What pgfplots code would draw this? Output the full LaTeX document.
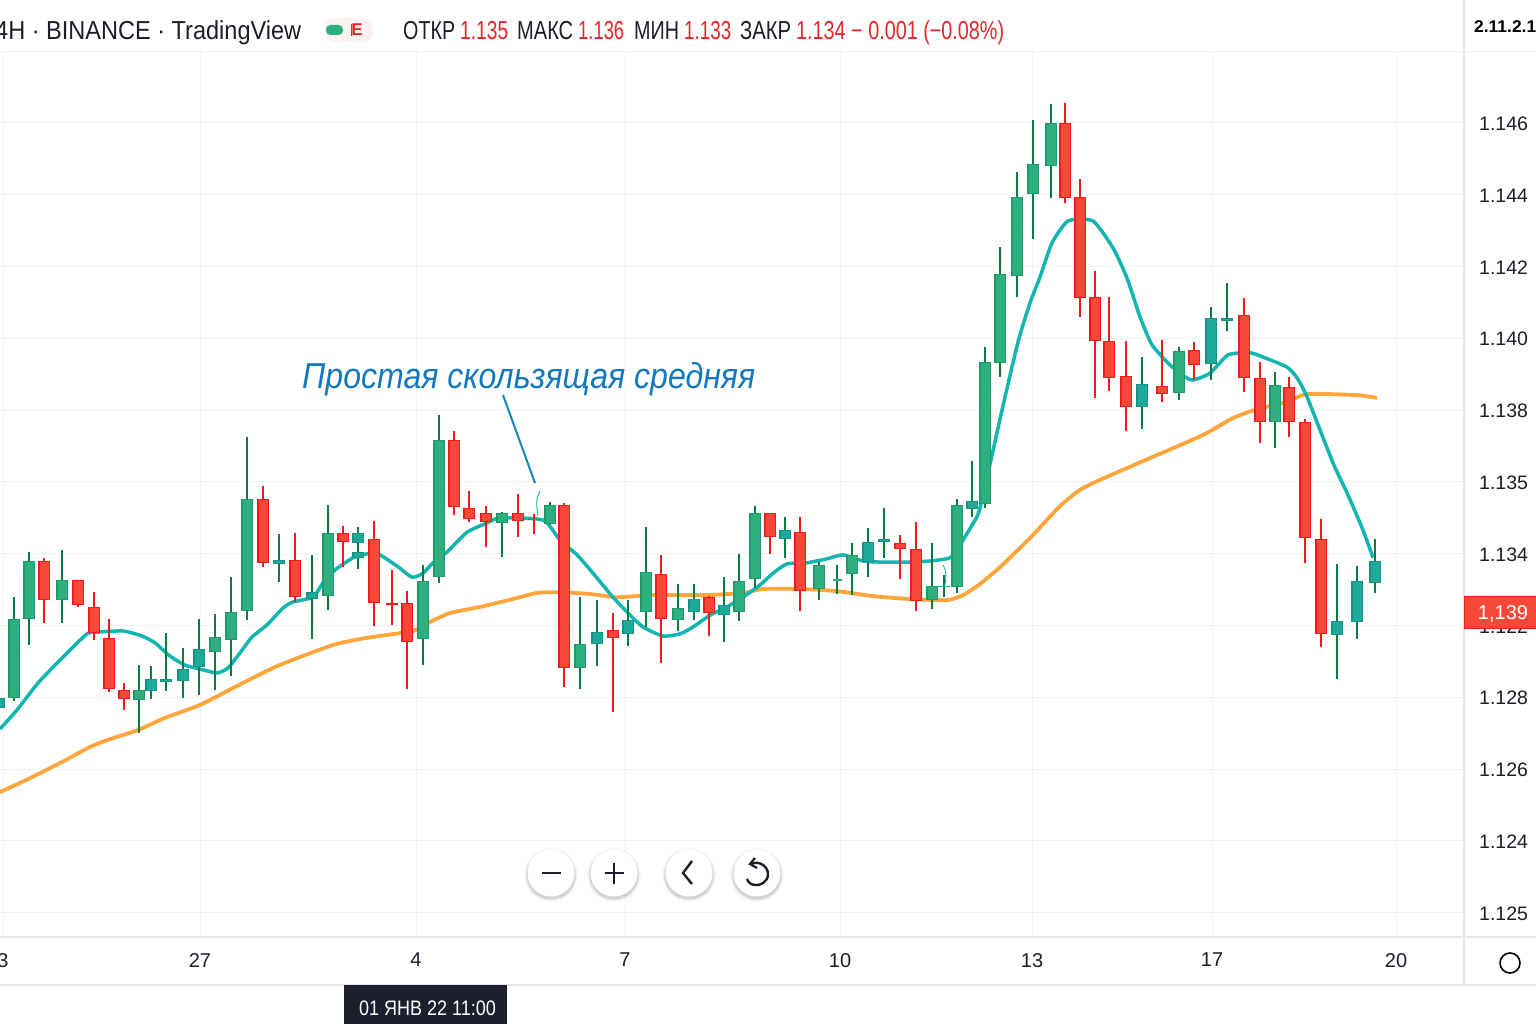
\documentclass[border=0pt]{standalone}
\usepackage{fontspec}
\setmainfont{Liberation Sans}
\usepackage{graphicx}
\usepackage{pgfplots}
\usepackage{pgfplotstable}
\pgfplotsset{compat=1.18}
\definecolor{gridc}{HTML}{F0F2F4}
\definecolor{sepc}{HTML}{E4E6EA}
\definecolor{gbody}{HTML}{2FAE80}
\definecolor{gbord}{HTML}{1C9C6C}
\definecolor{tbody}{HTML}{1FA998}
\definecolor{tbord}{HTML}{149488}
\definecolor{gwick}{HTML}{0A7D3E}
\definecolor{rbody}{HTML}{F8483A}
\definecolor{rbord}{HTML}{F01C1C}
\definecolor{tealln}{HTML}{12B5B0}
\definecolor{orangeln}{HTML}{FFA53C}
\definecolor{annot}{HTML}{1478BE}
\definecolor{hdred}{HTML}{E5262A}
\definecolor{txt}{HTML}{1A1E28}
\definecolor{boxc}{HTML}{1B1F2E}

\pgfplotstableread{
x H T B L
14 1.13279 1.13219 1.12999 1.12990
29 1.13405 1.13380 1.13219 1.13146
62 1.13411 1.13327 1.13271 1.13208
139 1.13090 1.13021 1.12993 1.12901
215 1.13232 1.13168 1.13126 1.13021
231 1.13335 1.13238 1.13160 1.13059
247 1.13725 1.13553 1.13241 1.13216
328 1.13536 1.13457 1.13282 1.13243
423 1.13369 1.13324 1.13163 1.13090
439 1.13786 1.13717 1.13335 1.13319
502 1.13516 1.13514 1.13486 1.13391
550 1.13544 1.13536 1.13483 1.13480
580 1.13279 1.13149 1.13082 1.13024
646 1.13474 1.13349 1.13238 1.13196
678 1.13316 1.13249 1.13216 1.13185
739 1.13400 1.13324 1.13238 1.13213
755 1.13533 1.13514 1.13330 1.13305
819 1.13377 1.13369 1.13302 1.13271
837 1.13369 1.13327 1.13327 1.13288
852 1.13430 1.13397 1.13344 1.13285
932 1.13430 1.13310 1.13271 1.13246
957 1.13553 1.13536 1.13307 1.13290
985 1.13976 1.13934 1.13539 1.13528
1000 1.14255 1.14179 1.13931 1.13893
1017 1.14464 1.14394 1.14174 1.14115
1033 1.14608 1.14486 1.14402 1.14277
1051 1.14653 1.14600 1.14480 1.14391
1179 1.13976 1.13965 1.13848 1.13828
1275 1.13906 1.13870 1.13767 1.13695
}\greenT

\pgfplotstableread{
x H T B L
-1 1.13021 1.12999 1.12971 1.12960
151 1.13087 1.13051 1.13018 1.12996
166 1.13180 1.13051 1.13043 1.13018
183 1.13138 1.13079 1.13046 1.12999
199 1.13219 1.13135 1.13085 1.13007
279 1.13455 1.13383 1.13372 1.13322
312 1.13397 1.13293 1.13274 1.13163
358 1.13474 1.13457 1.13430 1.13358
358 1.13405 1.13405 1.13389 1.13389
597 1.13271 1.13182 1.13149 1.13087
628 1.13271 1.13216 1.13177 1.13143
694 1.13316 1.13274 1.13238 1.13216
724 1.13335 1.13257 1.13229 1.13154
785 1.13503 1.13466 1.13441 1.13389
868 1.13472 1.13433 1.13377 1.13335
884 1.13528 1.13441 1.13433 1.13389
944 1.13341 1.13310 1.13307 1.13279
972 1.13658 1.13547 1.13525 1.13503
1142 1.13948 1.13873 1.13809 1.13748
1211 1.14087 1.14057 1.13929 1.13884
1227 1.14155 1.14057 1.14048 1.14020
1337 1.13372 1.13213 1.13174 1.13051
1357 1.13366 1.13324 1.13210 1.13163
1375 1.13441 1.13380 1.13319 1.13290
}\tealT

\pgfplotstableread{
x H T B L
44 1.13389 1.13380 1.13271 1.13208
78 1.13327 1.13327 1.13257 1.13252
94 1.13293 1.13252 1.13180 1.13160
109 1.13219 1.13166 1.13024 1.13015
124 1.13040 1.13021 1.12996 1.12965
263 1.13589 1.13553 1.13375 1.13363
295 1.13457 1.13383 1.13279 1.13266
343 1.13477 1.13457 1.13433 1.13363
374 1.13491 1.13441 1.13263 1.13199
392 1.13355 1.13263 1.13257 1.13202
407 1.13296 1.13263 1.13154 1.13024
454 1.13742 1.13717 1.13530 1.13508
469 1.13575 1.13528 1.13497 1.13488
486 1.13533 1.13514 1.13488 1.13419
518 1.13567 1.13514 1.13491 1.13447
534 1.13511 1.13497 1.13494 1.13455
564 1.13542 1.13536 1.13082 1.13029
613 1.13235 1.13188 1.13166 1.12960
661 1.13397 1.13344 1.13219 1.13096
709 1.13282 1.13279 1.13235 1.13171
770 1.13514 1.13514 1.13447 1.13400
800 1.13503 1.13460 1.13296 1.13241
900 1.13452 1.13430 1.13413 1.13330
916 1.13488 1.13413 1.13268 1.13241
1065 1.14656 1.14600 1.14391 1.14377
1080 1.14444 1.14394 1.14113 1.14060
1095 1.14188 1.14115 1.13993 1.13834
1109 1.14115 1.13993 1.13890 1.13853
1126 1.13993 1.13895 1.13809 1.13742
1162 1.13996 1.13867 1.13845 1.13823
1194 1.13990 1.13968 1.13926 1.13884
1244 1.14113 1.14065 1.13890 1.13850
1260 1.13934 1.13890 1.13767 1.13709
1289 1.13893 1.13864 1.13767 1.13725
1305 1.13775 1.13767 1.13444 1.13375
1321 1.13497 1.13441 1.13177 1.13140
}\redT

\pgfplotstableread{
x y
0 1.12912
17 1.12965
38 1.13040
60 1.13104
87 1.13177
98 1.13182
123 1.13185
142 1.13171
155 1.13152
170 1.13115
185 1.13090
200 1.13079
217 1.13068
228 1.13082
240 1.13124
252 1.13168
267 1.13202
283 1.13249
293 1.13266
313 1.13279
323 1.13319
335 1.13355
353 1.13389
367 1.13400
378 1.13400
397 1.13366
412 1.13335
423 1.13346
433 1.13375
447 1.13405
467 1.13460
487 1.13486
500 1.13500
543 1.13494
560 1.13438
577 1.13397
593 1.13346
613 1.13279
628 1.13235
643 1.13196
663 1.13171
680 1.13177
693 1.13196
710 1.13229
727 1.13252
743 1.13279
760 1.13313
773 1.13346
787 1.13372
807 1.13375
827 1.13386
843 1.13397
863 1.13380
880 1.13377
910 1.13377
930 1.13380
950 1.13389
960 1.13425
972 1.13480
980 1.13528
1002 1.13800
1018 1.13990
1030 1.14099
1040 1.14171
1052 1.14266
1068 1.14327
1093 1.14327
1113 1.14252
1127 1.14168
1140 1.14060
1152 1.13982
1170 1.13926
1185 1.13893
1193 1.13884
1210 1.13903
1228 1.13954
1250 1.13960
1263 1.13948
1287 1.13920
1297 1.13890
1307 1.13837
1333 1.13653
1347 1.13570
1363 1.13466
1373 1.13389
}\fastT

\pgfplotstableread{
x y
0 1.12736
30 1.12775
60 1.12817
90 1.12862
107 1.12881
138 1.12909
165 1.12943
200 1.12979
233 1.13026
277 1.13087
333 1.13146
367 1.13166
413 1.13185
430 1.13210
450 1.13235
480 1.13252
513 1.13274
537 1.13291
560 1.13293
590 1.13288
617 1.13279
653 1.13285
707 1.13285
743 1.13291
763 1.13302
800 1.13302
837 1.13296
873 1.13282
910 1.13274
947 1.13271
963 1.13285
980 1.13316
1000 1.13363
1030 1.13444
1060 1.13533
1080 1.13578
1100 1.13606
1157 1.13675
1203 1.13731
1233 1.13778
1257 1.13803
1287 1.13823
1307 1.13845
1357 1.13842
1377 1.13834
}\slowT

\newcommand{\candles}[4]{%
  \addplot[draw=none,no markers,forget plot,error bars/.cd,y dir=plus,y explicit,error mark=none,
    error bar style={line width=1.7pt,draw=#2}]
    table[x=x,y=L,y error expr=\thisrow{H}-\thisrow{L}]{#1};
  \addplot[draw=none,no markers,forget plot,error bars/.cd,y dir=plus,y explicit,error mark=none,
    error bar style={line width=11.2pt,draw=#3}]
    table[x=x,y=B,y error expr=\thisrow{T}-\thisrow{B}]{#1};
  \addplot[draw=none,no markers,forget plot,error bars/.cd,y dir=plus,y explicit,error mark=none,
    error bar style={line width=9pt,draw=#4}]
    table[x=x,y expr=\thisrow{B}+0.00003,y error expr=\thisrow{T}-\thisrow{B}-0.00006]{#1};
}
\newcommand{\hd}[4]{\node[anchor=base west,inner sep=0pt,text=#4] at (#1,40) {\fontsize{26}{30}\selectfont\resizebox{#2pt}{\height}{#3}};}
\newcommand{\btn}[1]{%
  \foreach \r/\o in {27/0.025,26/0.035,25/0.05,24.5/0.07}{\fill[black,opacity=\o] (#1,875) circle[radius=\r];}
  \fill[white] (#1,873) circle[radius=23.5];
}

\begin{document}
\begin{tikzpicture}[x=1pt,y=1pt]
\path[use as bounding box] (0,0) rectangle (1536,1024);
\begin{axis}[
  at={(0pt,87pt)},anchor=south west,scale only axis,width=1464pt,height=885pt,
  xmin=0,xmax=1464,ymin=1.123326,ymax=1.147978,
  axis line style={draw=none},tick style={draw=none},
  grid=major,grid style={draw=gridc,line width=1pt},
  xtick={3,200,416,625,840,1032,1212,1396},
  xticklabels={3,27,4,7,10,13,17,20},
  x tick label style={inner sep=0pt,yshift=-16pt,font=\fontsize{20}{24}\selectfont,text=txt},
  ytick={1.124,1.126,1.128,1.13,1.132,1.134,1.136,1.138,1.14,1.142,1.144,1.146},
  yticklabels={1.125,1.124,1.126,1.128,1.122,1.134,1.135,1.138,1.140,1.142,1.144,1.146},
  yticklabel pos=right,
  y tick label style={inner sep=0pt,xshift=15pt,yshift=-0.8pt,font=\fontsize{19.5}{24}\selectfont,text=txt},
  scaled y ticks=false,
]
\addplot[orangeln,line width=3.8pt,smooth,tension=0.35,no markers,forget plot] table[x=x,y=y]{\slowT};
\addplot[tealln,line width=3.5pt,smooth,tension=0.35,no markers,forget plot] table[x=x,y=y]{\fastT};
\candles{\greenT}{gwick}{gbord}{gbody}
\candles{\tealT}{gwick}{tbord}{tbody}
\candles{\redT}{rbord}{rbord}{rbody}
\end{axis}
\begin{scope}[y=-1pt,shift={(0pt,1024pt)}]
  % frame lines
  \draw[gridc,line width=1pt] (0,52)--(1536,52);
  \draw[sepc,line width=1.2pt] (1464,0)--(1464,985);
  \draw[sepc,line width=1.2pt] (0,937)--(1536,937);
  \draw[sepc,line width=1.2pt] (0,985)--(1536,985);
  % header
  \hd{-5}{306}{4H · BINANCE · TradingView}{txt}
  \fill[hdred!6,rounded corners=9pt] (325,18) rectangle (373,42);
  \fill[gbody,rounded corners=4.5pt] (326,25) rectangle (343,35);
  \node[anchor=center,inner sep=0pt,text=hdred] at (357,30) {\fontsize{17}{20}\selectfont\textbf{E}};
  \draw[hdred,line width=1pt] (351,24)--(351,36);
  \hd{403}{52}{ОТКР}{txt}
  \hd{460}{48}{1.135}{hdred}
  \hd{517}{56}{МАКС}{txt}
  \hd{578}{46}{1.136}{hdred}
  \hd{634}{45}{МИН}{txt}
  \hd{684}{47}{1.133}{hdred}
  \hd{740}{51}{ЗАКР}{txt}
  \hd{796}{208}{1.134 − 0.001 (−0.08\%)}{hdred}
  \node[anchor=base west,inner sep=0pt,text=black] at (1474,33) {\fontsize{17}{20}\selectfont\resizebox{62pt}{\height}{\textbf{2.11.2.1}}};
  % annotation
  \node[anchor=base west,inner sep=0pt,text=annot] at (302,389) {\fontsize{36}{40}\selectfont\resizebox{453pt}{\height}{\itshape Простая скользящая средняя}};
  \draw[color=annot!70!tealln,line width=2pt] (503,395)--(535,483);
  \draw[tealln,line width=0.9pt] (540,491) .. controls (535,500) and (537,508) .. (538,516);
  \draw[tealln,line width=0.9pt] (943,565) .. controls (947,572) and (946,578) .. (945,585);
  % last price
  \fill[rbody,draw=rbord,line width=1pt] (1464,597) rectangle (1540,629);
  \node[anchor=base,inner sep=0pt,text=white] at (1503,620) {\fontsize{20}{24}\selectfont 1,139};
  % buttons
  \btn{551}\btn{614}\btn{689}\btn{757}
  \draw[txt,line width=2.6pt] (542,873)--(561,873);
  \draw[txt,line width=2.6pt] (604.5,873)--(623.5,873) (614,863.5)--(614,884);
  \draw[txt,line width=2.4pt] (692,861)--(683,873)--(692,884);
  \draw[txt,line width=2.4pt] (751,864) .. controls (760,860) and (768,867) .. (768,874) .. controls (768,882) and (760,886) .. (755,885) .. controls (751,885) and (748,882) .. (747,879);
  \draw[txt,line width=2.2pt] (755,858)--(750,864)--(757,868);
  % bottom
  \draw[black,line width=1.6pt] (1510,963) circle[radius=10];
  \fill[boxc] (344,985) rectangle (507,1024);
  \node[anchor=base,inner sep=0pt,text=white] at (427.5,1016) {\fontsize{21}{24}\selectfont\resizebox{137pt}{\height}{01 ЯНВ 22 11:00}};
\end{scope}
\end{tikzpicture}
\end{document}
